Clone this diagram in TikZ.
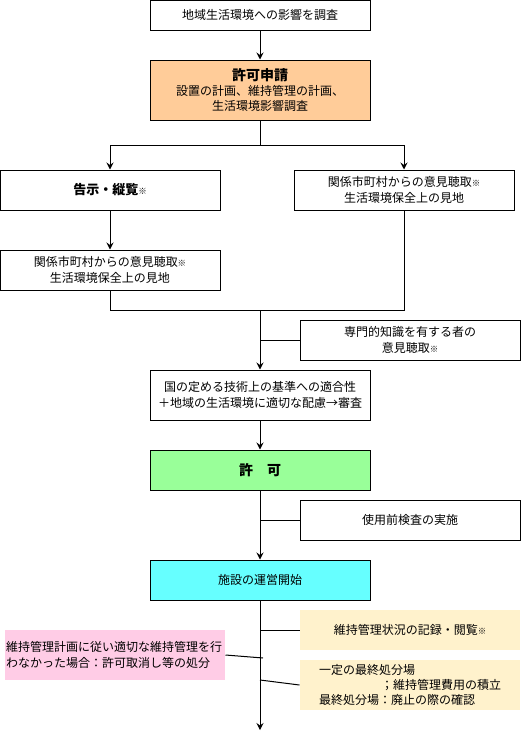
\documentclass[tikz,border=0pt]{standalone}
\usepackage{fontspec}
\setmainfont{Noto Sans CJK JP}
\usetikzlibrary{arrows.meta}
\definecolor{orangefill}{HTML}{FFCC99}
\definecolor{greenfill}{HTML}{99FF99}
\definecolor{cyanfill}{HTML}{66FFFF}
\definecolor{yellowfill}{HTML}{FFF2CC}
\definecolor{pinkfill}{HTML}{FFCCE6}
\newcommand{\kome}{{\fontsize{8.5}{8}\selectfont\bfseries ※}}
\begin{document}
\begin{tikzpicture}[x=1pt,y=-1pt,
  box/.style={draw, line width=1pt, minimum width=220pt, inner sep=1pt, align=center,
    font=\fontsize{12}{16}\selectfont},
  notebox/.style={box, draw=none},
  arr/.style={line width=1pt, -{Stealth[length=7pt,width=7pt,inset=2.5pt]}},
  ln/.style={line width=1pt}]
\useasboundingbox (0,0) rectangle (521,739);

\node[box, minimum height=30pt] (n1) at (260,15) {地域生活環境への影響を調査};
\node[box, fill=orangefill, minimum height=60pt, font=\fontsize{12}{15}\selectfont] (n2) at (260,90)
  {{\fontsize{14}{15}\selectfont\bfseries 許可申請}\\設置の計画、維持管理の計画、\\生活環境影響調査};
\node[box, minimum height=40pt] (n3L) at (110,190) {\bfseries\fontsize{13}{16}\selectfont 告示・縦覧\kome};
\node[box, minimum height=40pt] (n3R) at (404,190) {関係市町村からの意見聴取\kome\\生活環境保全上の見地};
\node[box, minimum height=40pt] (n4L) at (110,270) {関係市町村からの意見聴取\kome\\生活環境保全上の見地};
\node[box, minimum height=40pt] (n5) at (410,340) {専門的知識を有する者の\\意見聴取\kome};
\node[box, minimum height=50pt] (n6) at (260,395) {国の定める技術上の基準への適合性\\＋地域の生活環境に適切な配慮→審査};
\node[box, fill=greenfill, minimum height=40pt] (n7) at (260,470) {\bfseries\fontsize{14}{16}\selectfont 許　可};
\node[box, minimum height=40pt] (n8) at (410,520) {使用前検査の実施};
\node[box, fill=cyanfill, minimum height=40pt] (n9) at (260,580) {施設の運営開始};
\node[notebox, fill=yellowfill, minimum height=40pt] (n10) at (410,630) {維持管理状況の記録・閲覧\kome};
\node[notebox, fill=yellowfill, minimum height=50pt, align=left, font=\fontsize{12}{15}\selectfont] (n11) at (410,685)
  {一定の最終処分場\\\hspace*{62pt}；維持管理費用の積立\\最終処分場：廃止の際の確認};
\node[notebox, fill=pinkfill, minimum height=50pt, align=left, text width=218pt] (n12) at (115,655)
  {維持管理計画に従い適切な維持管理を行\\わなかった場合：許可取消し等の処分};

\coordinate (j1) at (260,145);
\coordinate (j2) at (260,310);
\coordinate (endpt) at (260,730);
\coordinate (c11) at (260,680);
\coordinate (c12) at (263,658);

\draw[arr] (n1) -- (n2);
\draw[ln] (n2.south) -- (j1);
\draw[arr] (j1) -| (n3L);
\draw[arr] (j1) -| (n3R);
\draw[arr] (n3L) -- (n4L);
\draw[ln] (n4L.south) |- (j2);
\draw[ln] (n3R.south) |- (j2);
\draw[arr] (j2) -- (n6);
\draw[ln] (n5.west) -- (n5.west -| j2);
\draw[arr] (n6) -- (n7);
\draw[arr] (n7) -- (n9);
\draw[ln] (n8.west) -- (n8.west -| n7);
\draw[arr] (n9) -- (endpt);
\draw[ln] (n10.west) -- (n10.west -| n9);
\draw[ln] (n11.west) -- (c11);
\draw[ln] (n12.east) -- (c12);
\end{tikzpicture}
\end{document}
